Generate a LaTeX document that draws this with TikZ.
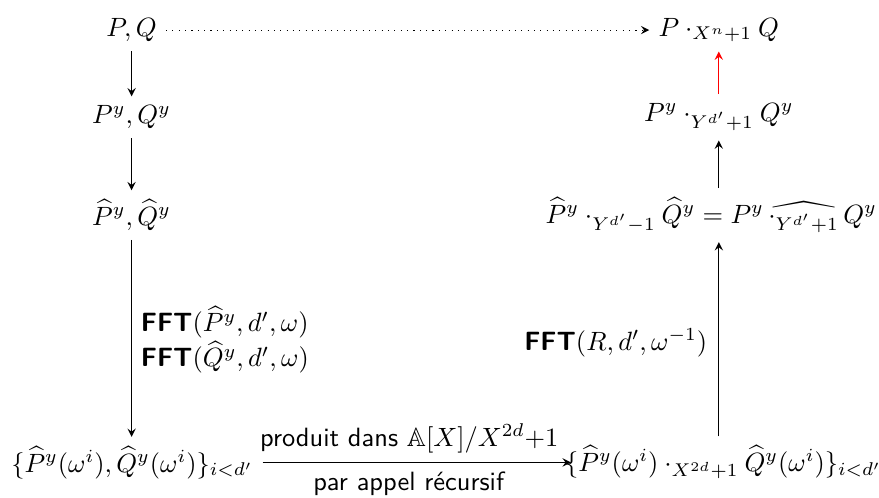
\documentclass[tikz,border=0pt]{standalone}
\usepackage{amssymb}
\begin{document}
\begin{tikzpicture}[>=stealth]
    \useasboundingbox (0,0) rectangle (11.69,-6.61);
    % colonne de gauche
    \node (pq) at (1.75,-0.40) {$P,Q$};
    \node (pqy) at (1.75,-1.56) {$P^y,Q^y$};
    \node (pqh) at (1.75,-2.86) {$\widehat{P}^y,\widehat{Q}^y$};
    \node (evl) at (1.76,-6.15) {$\{\widehat{P}^y(\omega^i),\widehat{Q}^y(\omega^i)\}_{i<d'}$};
    % colonne de droite
    \node (prod) at (9.56,-0.40) {$P\cdot_{X^n+1}Q$};
    \node (prody) at (9.56,-1.56) {$P^y\cdot_{Y^{d'}+1}Q^y$};
    \node (prodh) at (9.46,-2.86) {$\widehat{P}^y\cdot_{Y^{d'}-1}\widehat{Q}^y = P^y\,\widehat{\cdot_{Y^{d'}+1}}\,Q^y$};
    \node (evr) at (9.62,-6.15) {$\{\widehat{P}^y(\omega^i)\cdot_{X^{2d}+1}\widehat{Q}^y(\omega^i)\}_{i<d'}$};
    % fleches
    \draw[dotted,->] (pq) -- (prod);
    \draw[->] (pq) -- (pqy);
    \draw[->] (pqy) -- (pqh);
    \draw[->] (pqh) -- (pqh |- evl.north);
    \node[anchor=west,align=left] (fftl) at (1.75,-4.52)
      {\textsf{\textbf{FFT}}$(\widehat{P}^y,d',\omega)$\\\textsf{\textbf{FFT}}$(\widehat{Q}^y,d',\omega)$};
    \draw[->,shorten >=-2mm] (evl) -- (evr)
      node[midway,above] (prodlab) {\textsf{produit dans} $\mathbb{A}[X]/X^{2d}{+}1$}
      node[midway,below] (reclab) {\textsf{par appel récursif}};
    \draw[->] (prody |- evr.north) -- (prody |- prodh.south);
    \node[anchor=east] (fftr) at (9.53,-4.56) {\textsf{\textbf{FFT}}$(R,d',\omega^{-1})$};
    \draw[->] (prody |- prodh.north) -- (prody);
    \draw[->,red] (prody) -- (prod);
\end{tikzpicture}
\end{document}
